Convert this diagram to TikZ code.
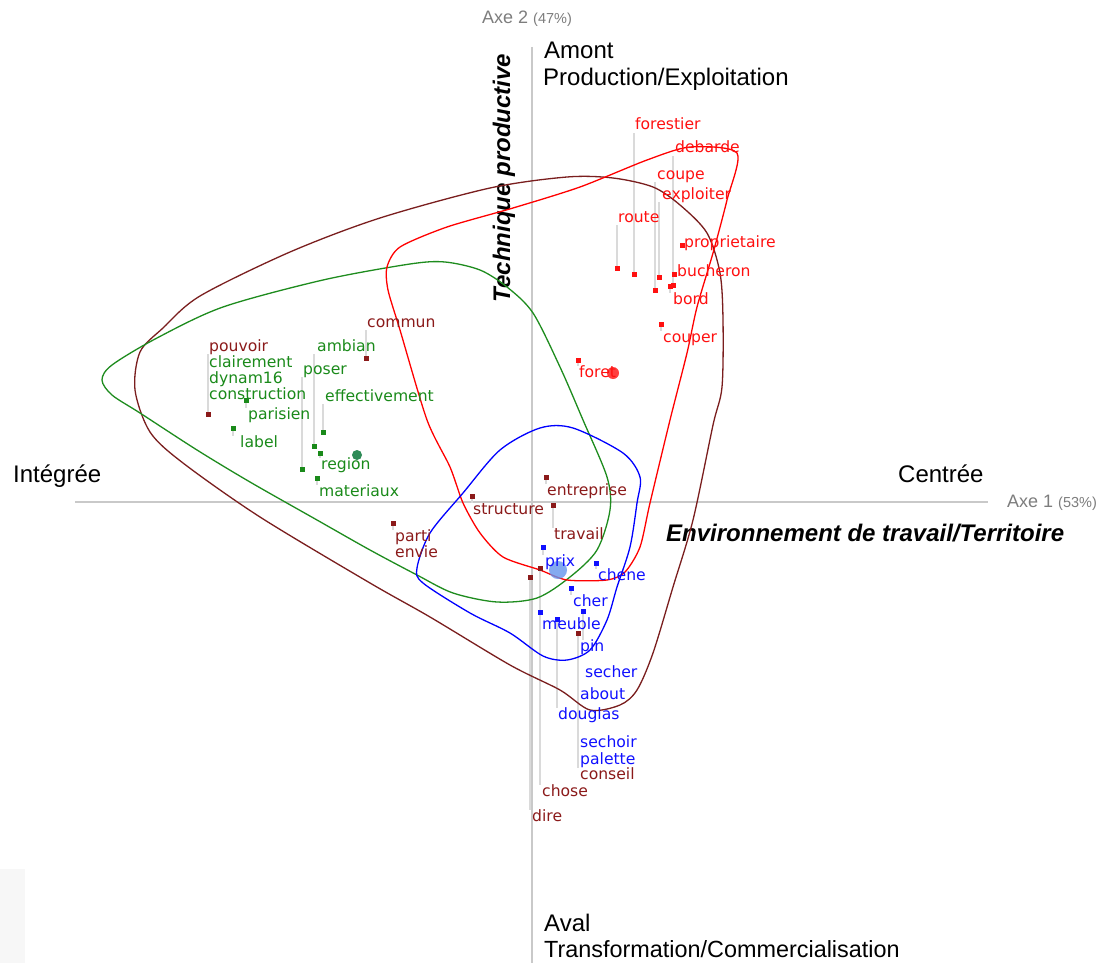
\documentclass[tikz,border=0pt]{standalone}
\usepackage{fontspec}
\setmainfont{Liberation Sans}
\newfontfamily\lblfont{DejaVu Sans}
\definecolor{axisgray}{HTML}{C9C9C9}
\definecolor{leadgray}{HTML}{DADADA}
\definecolor{axtxt}{HTML}{7D7D7D}
\definecolor{cred}{HTML}{FF1010}
\definecolor{cdred}{HTML}{8B1A1A}
\definecolor{cgreen}{HTML}{1A8A1A}
\definecolor{cblue}{HTML}{1010FF}
\definecolor{hred}{HTML}{FF0000}
\definecolor{hdred}{HTML}{7A1E1E}
\definecolor{hgreen}{HTML}{1E8C1E}
\definecolor{hblue}{HTML}{0000FF}
\definecolor{dotgreen}{HTML}{2E8B57}
\definecolor{dotblue}{HTML}{6495ED}
\definecolor{panelgray}{HTML}{F7F7F7}
\pgfdeclarelayer{bg}
\pgfdeclarelayer{paper}
\pgfsetlayers{paper,bg,main}
\newcommand\wordmk[6]{%
  \node[marker,fill=#2] (m#1) at (#3) {};
  \node[wlabel,text=#2] (l#1) at (#4) {#6};
  \begin{pgfonlayer}{bg}\draw[leader] (m#1.center) -- (m#1.center |- l#1.#5);\end{pgfonlayer}}
\newcommand\wordadj[5]{%
  \node[marker,fill=#2] (m#1) at (#3) {};
  \node[wlabel,text=#2] (l#1) at (#4) {#5};}
\newcommand\wordnl[4]{%
  \node[wlabel,text=#2] (l#1) at (#3) {#4};}
\begin{document}
\begin{tikzpicture}[x=1pt,y=-1pt,
  axisline/.style={draw=axisgray,line width=1.6pt},
  leader/.style={draw=leadgray,line width=1.3pt},
  hull/.style={line width=1.3pt},
  marker/.style={rectangle,minimum size=5pt,inner sep=0pt,draw=none},
  wlabel/.style={anchor=west,inner sep=0pt,font=\lblfont\fontsize{15.6}{16}\selectfont,text height=11pt,text depth=3pt},
  big/.style={anchor=base west,inner sep=0pt,font=\fontsize{24}{28}\selectfont,text=black},
  bigbi/.style={inner sep=0pt,font=\fontsize{24}{28}\selectfont\bfseries\itshape,text=black},
  axlab/.style={anchor=west,inner sep=0pt,text=axtxt,font=\fontsize{18}{18}\selectfont},
  bigdot/.style={circle,inner sep=0pt,draw=none}
]
\begin{pgfonlayer}{paper}
\fill[white] (0,0) rectangle (1105,963);
\fill[panelgray] (0,869) rectangle (25,963);
\end{pgfonlayer}
\useasboundingbox (0,0) rectangle (1105,963);

% axes
\coordinate (ytop) at (532,47);
\coordinate (ybot) at (532,963);
\coordinate (xleft) at (75,502);
\coordinate (xright) at (988,502);
\begin{pgfonlayer}{bg}
\draw[axisline] (ytop) -- (ybot);
\draw[axisline] (xleft) -- (xright);
\end{pgfonlayer}

% axis titles
\node[axlab] (ax2) at (482,19) {Axe 2 {\fontsize{14.5}{14.5}\selectfont (47\%)}};
\node[axlab] (ax1) at (1007,503) {Axe 1 {\fontsize{14.5}{14.5}\selectfont (53\%)}};

% pole labels
\node[big] (amont) at (544,59) {Amont};
\node[big] (prod) at (543,86) {Production/Exploitation};
\node[big] (aval) at (544,931) {Aval};
\node[big,font=\fontsize{23.4}{28}\selectfont] (trans) at (544,957) {Transformation/Commercialisation};
\node[big] (integ) at (13,482) {Intégrée};
\node[big] (centr) at (898,482) {Centrée};
\node[bigbi,anchor=base west] (env) at (666,541) {Environnement de travail/Territoire};
\node[bigbi,rotate=90,anchor=center] (tech) at (504,178) {Technique productive};

% hulls
\draw[hull,hdred] plot[smooth cycle] coordinates {(135,390) (140,352) (163,328) (200,296) (290,252) (380,218) (490,188) (567,177) (613,178) (653,187) (680,205) (707,233) (720,273) (723,320) (722,387) (713,425) (693,520) (673,587) (653,653) (637,690) (620,705) (590,710) (560,690) (510,665) (430,617) (370,583) (260,517) (183,463) (150,432)};
\draw[hull,hgreen] plot[smooth cycle] coordinates {(102,380) (112,365) (157,338) (223,307) (323,280) (410,264) (445,262) (480,270) (507,287) (533,313) (560,367) (583,420) (607,477) (610,510) (597,550) (570,577) (537,598) (497,602) (453,593) (417,575) (370,550) (317,520) (250,482) (197,450) (140,413) (112,395)};
\draw[hull,hred] plot[smooth cycle,tension=0.45] coordinates {(387,267) (400,247) (447,227) (513,208) (580,187) (647,160) (690,147) (737,153) (727,200) (713,253) (697,307) (687,353) (670,420) (650,503) (640,547) (625,572) (607,580) (567,580) (540,570) (503,557) (480,533) (463,503) (450,467) (427,420) (400,330) (388,290)};
\draw[hull,hblue] plot[smooth cycle] coordinates {(540,428) (573,428) (623,453) (640,477) (637,503) (630,547) (617,587) (607,620) (590,650) (567,660) (543,656) (510,633) (470,613) (423,583) (417,568) (430,533) (463,493) (500,450)};

% class centres
\node[bigdot,fill=hred,opacity=0.75,minimum size=12pt] (cred0) at (613,373) {};
\node[bigdot,fill=dotgreen,minimum size=10pt] (cgreen0) at (357,455) {};
\node[bigdot,fill=dotblue,opacity=0.8,minimum size=18pt] (cblue0) at (558,570) {};

% red words
\wordmk{forestier}{cred}{634,274}{635,126}{south}{forestier}
\wordmk{debarde}{cred}{673,285}{675,149}{south}{debarde}
\wordmk{coupe}{cred}{655,290}{657,175}{south}{coupe}
\wordmk{exploiter}{cred}{659,277}{662,195}{south}{exploiter}
\wordmk{route}{cred}{617,268}{618,218}{south}{route}
\wordadj{propr}{cred}{682,245}{684,243}{proprietaire}
\wordadj{bucheron}{cred}{674,274}{677,272}{bucheron}
\wordmk{bord}{cred}{670,286}{673,300}{north}{bord}
\wordmk{couper}{cred}{661,324}{663,338}{north}{couper}
\wordmk{foret}{cred}{578,360}{579,373}{north}{foret}

% dark red words
\wordmk{commun}{cdred}{366,358}{367,323}{south}{commun}
\wordmk{pouvoir}{cdred}{208,414}{209,347}{south}{pouvoir}
\wordmk{entreprise}{cdred}{546,477}{547,491}{north}{entreprise}
\wordmk{structure}{cdred}{472,496}{473,510}{north}{structure}
\wordmk{travail}{cdred}{553,505}{554,535}{north}{travail}
\wordmk{parti}{cdred}{393,523}{395,537}{north}{parti}
\wordnl{envie}{cdred}{395,553}{envie}
\wordmk{chose}{cdred}{540,568}{542,792}{north}{chose}
\wordmk{dire}{cdred}{530,577}{532,817}{north}{dire}
\wordmk{conseil}{cdred}{578,633}{580,775}{north}{conseil}

% green words
\wordnl{clair}{cgreen}{209,363}{clairement}
\wordnl{dynam}{cgreen}{209,379}{dynam16}
\wordnl{constr}{cgreen}{209,395}{construction}
\wordmk{parisien}{cgreen}{246,400}{248,415}{north}{parisien}
\wordmk{label}{cgreen}{233,428}{240,443}{north}{label}
\wordmk{ambian}{cgreen}{314,446}{317,347}{south}{ambian}
\wordmk{poser}{cgreen}{302,469}{303,370}{south}{poser}
\wordmk{effect}{cgreen}{323,432}{325,397}{south}{effectivement}
\wordmk{region}{cgreen}{320,453}{321,465}{north}{region}
\wordmk{materiaux}{cgreen}{317,478}{319,492}{north}{materiaux}

% blue words
\wordmk{prix}{cblue}{543,547}{545,562}{north}{prix}
\wordmk{chene}{cblue}{596,563}{598,576}{north}{chene}
\wordmk{cher}{cblue}{571,588}{573,602}{north}{cher}
\wordmk{meuble}{cblue}{540,612}{542,625}{north}{meuble}
\wordmk{douglas}{cblue}{557,619}{558,715}{north}{douglas}
\wordmk{pin}{cblue}{583,611}{580,647}{north}{pin}
\wordnl{secher}{cblue}{585,673}{secher}
\wordnl{about}{cblue}{580,695}{about}
\wordnl{sechoir}{cblue}{580,743}{sechoir}
\wordnl{palette}{cblue}{580,760}{palette}
\begin{pgfonlayer}{bg}
\draw[leader] ([xshift=-2pt]lsechoir.north west) -- ([xshift=-2pt]lsechoir.north west |- lsecher.south);
\end{pgfonlayer}
\end{tikzpicture}
\end{document}
